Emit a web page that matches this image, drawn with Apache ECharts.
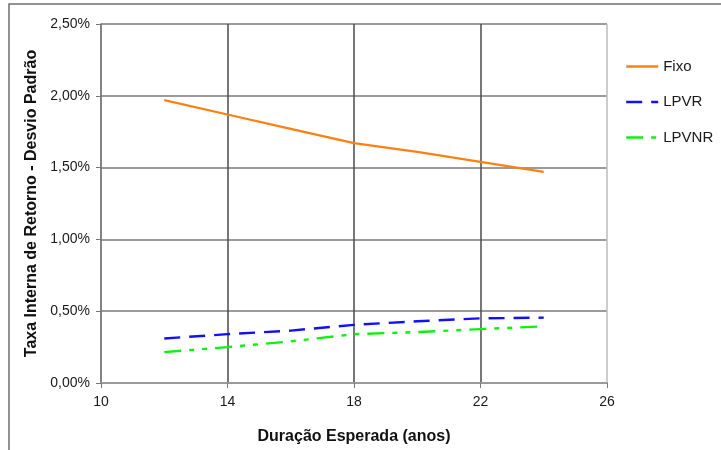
<!DOCTYPE html>
<html>
<head>
<meta charset="utf-8">
<script src="https://cdn.jsdelivr.net/npm/echarts@6/dist/echarts.min.js"></script>
<style>
  html, body { margin: 0; padding: 0; background: #fff; }
  #chart { width: 721px; height: 450px; }
</style>
</head>
<body>
<div id="chart"></div>
<script>
// Expected duration (years)
const duracao = [12, 14, 16, 18, 20, 22, 24];
// Internal rate of return minus standard deviation (%)
const fixo  = [1.97, 1.87, 1.77, 1.67, 1.61, 1.54, 1.47];
const lpvr  = [0.31, 0.34, 0.365, 0.405, 0.43, 0.45, 0.455];
const lpvnr = [0.215, 0.25, 0.29, 0.34, 0.355, 0.375, 0.395];

const seriesNames = ['Fixo', 'LPVR', 'LPVNR'];
const xTitle = 'Duração Esperada (anos)';
const yTitle = 'Taxa Interna de Retorno - Desvio Padrão';

const FONT = '"Liberation Sans", Arial, sans-serif';

function pairs(xs, ys) { return xs.map((x, i) => [x, ys[i]]); }

const chart = echarts.init(document.getElementById('chart'), null, { renderer: 'canvas' });

chart.setOption({
  backgroundColor: '#ffffff',
  animation: false,
  textStyle: { fontFamily: FONT },
  graphic: [{
    type: 'rect',
    shape: { x: 9, y: 4, width: 900, height: 700 },
    style: { fill: 'none', stroke: '#6e6e6e', lineWidth: 1.5 },
    silent: true
  }],
  grid: { left: 101, top: 24, right: 114, bottom: 58, containLabel: false },
  legend: {
    orient: 'vertical',
    left: 625,
    top: 59,
    padding: 0,
    itemWidth: 32,
    itemHeight: 14,
    itemGap: 20.5,
    data: seriesNames,
    // keep only the line sample in each legend key, no marker
    itemStyle: { color: 'transparent', borderWidth: 0, opacity: 0 },
    lineStyle: { width: 2.4 },
    textStyle: { fontFamily: FONT, fontSize: 15, color: '#1a1a1a' }
  },
  xAxis: {
    type: 'value',
    min: 10, max: 26, interval: 4,
    name: xTitle,
    nameLocation: 'middle',
    nameGap: 46,
    nameTextStyle: { fontFamily: FONT, fontSize: 16, fontWeight: 'bold', color: '#111' },
    axisLine: { show: true, lineStyle: { color: '#9a9a9a', width: 2 } },
    axisTick: { show: true, inside: false, length: 5, lineStyle: { color: '#777' } },
    axisLabel: { fontFamily: FONT, fontSize: 14, color: '#1a1a1a', margin: 12 },
    splitLine: { show: true, lineStyle: { color: ['#888', '#4a4a4a', '#4a4a4a', '#4a4a4a', '#bdbdbd'], width: 1.5 } }
  },
  yAxis: {
    type: 'value',
    min: 0, max: 2.5, interval: 0.5,
    name: yTitle,
    nameLocation: 'middle',
    nameGap: 58,
    nameRotate: 90,
    nameTextStyle: { fontFamily: FONT, fontSize: 16, fontWeight: 'bold', color: '#111' },
    axisLine: { show: true, lineStyle: { color: '#777', width: 1.5 } },
    axisTick: { show: true, inside: false, length: 5, lineStyle: { color: '#777' } },
    axisLabel: {
      fontFamily: FONT, fontSize: 14, color: '#1a1a1a', margin: 11,
      formatter: v => v.toFixed(2).replace('.', ',') + '%'
    },
    splitLine: { show: true, lineStyle: { color: '#7a7a7a', width: 1.5 } }
  },
  series: [
    {
      name: seriesNames[0], type: 'line', symbol: 'none',
      data: pairs(duracao, fixo),
      lineStyle: { color: '#ff8010', width: 2.2, type: 'solid' },
      itemStyle: { color: '#ff8010' }
    },
    {
      name: seriesNames[1], type: 'line', symbol: 'none',
      data: pairs(duracao, lpvr),
      lineStyle: { color: '#1010ff', width: 2.4, type: [16, 9] },
      itemStyle: { color: '#1010ff' }
    },
    {
      name: seriesNames[2], type: 'line', symbol: 'none',
      data: pairs(duracao, lpvnr),
      lineStyle: { color: '#10f010', width: 2.4, type: [17, 8, 5, 8, 5, 8] },
      itemStyle: { color: '#10f010' }
    }
  ]
});
</script>
</body>
</html>
